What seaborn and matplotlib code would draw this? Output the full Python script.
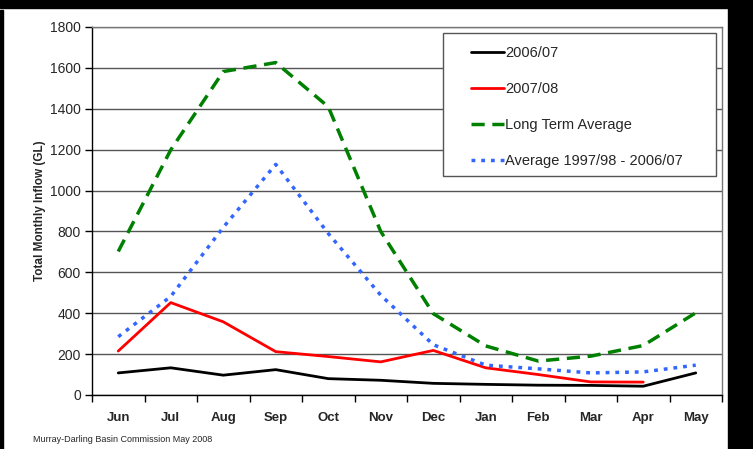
import numpy as np
import pandas as pd
import matplotlib
matplotlib.use("Agg")
import matplotlib.pyplot as plt
import seaborn as sns
from matplotlib.patches import Rectangle

# 데이터 (그림에서 읽은 값, GL)
months = ["Jun", "Jul", "Aug", "Sep", "Oct", "Nov", "Dec", "Jan", "Feb", "Mar", "Apr", "May"]
inflow_0607 = [108, 133, 97, 124, 80, 72, 57, 52, 48, 47, 43, 108]
inflow_0708 = [215, 452, 358, 212, 188, 162, 218, 133, 100, 64, 63]
long_term_avg = [702, 1199, 1582, 1626, 1410, 800, 398, 240, 166, 190, 242, 402]
avg_9798_0607 = [285, 482, 820, 1128, 790, 488, 246, 146, 128, 108, 113, 146]

sns.set_style("white")
plt.rcParams["font.family"] = ["Liberation Sans", "DejaVu Sans"]

fig = plt.figure(figsize=(7.53, 4.49), dpi=100)
ax = fig.add_axes([92 / 753, 54 / 449, 630 / 753, 368 / 449])

x_all = np.arange(len(months))

sns.lineplot(x=x_all, y=inflow_0607, ax=ax, color="black", lw=2,
             label="2006/07")
sns.lineplot(x=x_all[:len(inflow_0708)], y=inflow_0708, ax=ax, color="#ff0000",
             lw=2, label="2007/08")
sns.lineplot(x=x_all, y=long_term_avg, ax=ax, color="#008000", lw=2.5,
             label="Long Term Average")
sns.lineplot(x=x_all, y=avg_9798_0607, ax=ax, color="#3366ff", lw=2.5,
             label="Average 1997/98 - 2006/07")

ax.lines[2].set_dashes((3.8, 2.2))
ax.lines[3].set_dashes((1.1, 1.7))

# 축 설정
ax.set_xlim(-0.5, len(months) - 0.5)
ax.set_ylim(0, 1800)
ax.set_yticks(range(0, 1801, 200))
ax.set_xticks(x_all)
ax.set_xticklabels(months, fontweight="bold", fontsize=9.5)
ax.set_xticks(np.arange(-0.5, len(months), 1), minor=True)
ax.tick_params(axis="x", which="major", bottom=True, length=0, pad=12)
ax.tick_params(axis="x", which="minor", bottom=True, length=5, width=1,
               color="black", direction="out")
ax.tick_params(axis="y", left=True, length=5, width=1, color="black",
               direction="out", labelsize=10, pad=3)
ax.set_ylabel("Total Monthly Inflow (GL)", fontweight="bold", fontsize=8.5,
              labelpad=3)
ax.set_xlabel("")

ax.yaxis.grid(True, color="#555555", lw=1)
ax.set_axisbelow(True)
for s in ["left", "bottom"]:
    ax.spines[s].set_color("black")
    ax.spines[s].set_linewidth(1)
for s in ["top", "right"]:
    ax.spines[s].set_color("#777777")
    ax.spines[s].set_linewidth(1)

# 범례 상자 (그림자 포함)
ax.add_patch(Rectangle((0.5585, 0.592), 0.433, 0.389, transform=ax.transAxes,
                       facecolor="#999999", edgecolor="none", zorder=4,
                       clip_on=False))
ax.add_patch(Rectangle((0.557, 0.595), 0.433, 0.389, transform=ax.transAxes,
                       facecolor="white", edgecolor="#555555", lw=1, zorder=4.5,
                       clip_on=False))
leg = ax.legend(loc="upper left", bbox_to_anchor=(0.6016, 0.949),
                fontsize=10.5, frameon=False, handlelength=2.25,
                handletextpad=0.1, labelspacing=1.52, borderpad=0,
                borderaxespad=0)
leg.set_zorder(5)

# 출처 표기
fig.text(33 / 753, 1 - 440 / 449, "Murray-Darling Basin Commission May 2008",
         fontsize=6.5, va="center", ha="left")

# 테두리의 검은 띠
fig.patches.append(Rectangle((0, 1 - 8 / 449), 1, 8 / 449, transform=fig.transFigure,
                             color="black", zorder=10))
fig.patches.append(Rectangle((728 / 753, 0), 25 / 753, 1, transform=fig.transFigure,
                             color="black", zorder=10))
fig.patches.append(Rectangle((0, 0), 3 / 753, 1 - 10 / 449, transform=fig.transFigure,
                             color="black", zorder=10))

fig.savefig("out.png", dpi=100)
